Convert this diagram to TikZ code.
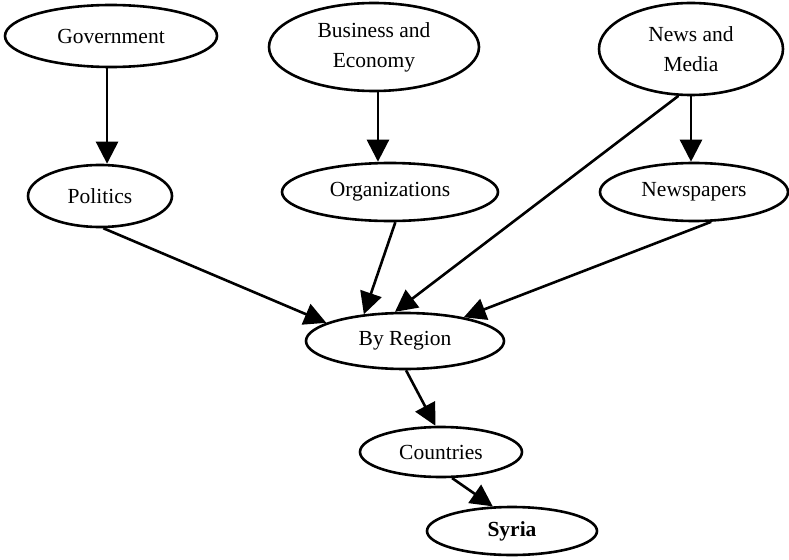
\documentclass[tikz,border=0pt]{standalone}
\usepackage{fontspec}
\setmainfont{Liberation Serif}
\usetikzlibrary{arrows.meta,shapes.geometric}
\begin{document}
\begin{tikzpicture}[x=1pt,y=-1pt,
  topic/.style={draw, ellipse, line width=2.6pt, inner sep=0pt, align=center,
    font=\fontsize{21.5}{30}\selectfont},
  link/.style={line width=2.6pt, -{Triangle[length=22pt,width=22pt]}}]
\useasboundingbox (0,0) rectangle (789,559);
\node[topic, minimum width=212pt, minimum height=62pt] (gov) at (111,36) {Government};
\node[topic, minimum width=210pt, minimum height=88pt] (bus) at (374,47) {Business and\\Economy};
\node[topic, minimum width=184pt, minimum height=92pt] (news) at (691,49) {News and\\Media};
\node[topic, minimum width=144pt, minimum height=62pt] (pol) at (100,196) {Politics};
\node[topic, minimum width=216pt, minimum height=58pt] (org) at (390,192) {Organizations};
\node[topic, minimum width=188pt, minimum height=58pt] (np) at (694,192) {Newspapers};
\node[topic, minimum width=198pt, minimum height=56pt] (reg) at (405,341) {By Region};
\node[topic, minimum width=162pt, minimum height=50pt] (cty) at (441,452) {Countries};
\node[topic, minimum width=170pt, minimum height=48pt] (syr) at (512,531) {\textbf{Syria}};

\draw[link] (gov.-97) -- (gov.-97 |- pol.north);
\draw[link] (bus.-85) -- (bus.-85 |- org.north);
\draw[link] (news.south) -- (news.south |- np.north);
\draw[link] (pol.-84) -- (reg.167);
\draw[link] (org.-80) -- (reg.147);
\draw[link] (news.-105) -- (reg.109);
\draw[link] (np.-60) -- (reg.22);
\draw[link] (reg.-88) -- (cty.102);
\draw[link] (cty.-67) -- (syr.128);
\end{tikzpicture}
\end{document}
